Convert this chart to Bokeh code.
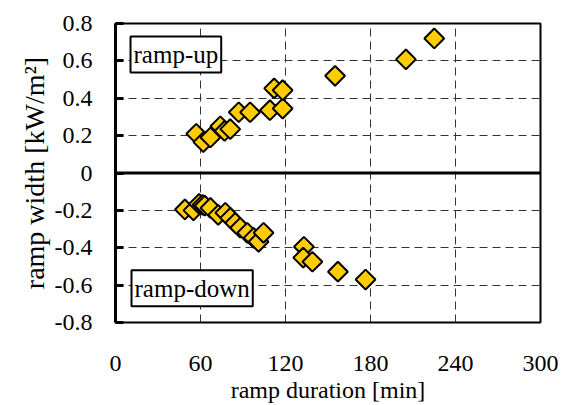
import math
from bokeh.plotting import figure
from bokeh.models import Range1d, FixedTicker, Span, Label, ColumnDataSource
from bokeh.embed import file_html
from bokeh.resources import INLINE

# ramp-up events
up_duration = [57, 62, 67, 74, 77, 81, 87, 95, 109, 118, 112, 118, 155, 205, 225]
up_width = [0.21, 0.165, 0.19, 0.25, 0.225, 0.235, 0.325, 0.325, 0.336, 0.345, 0.453, 0.443, 0.52, 0.608, 0.72]

# ramp-down events
down_duration = [49, 55, 59, 61.5, 63, 67, 72.5, 77.5, 81, 84.5, 88, 93, 97.5, 101, 104.5, 133, 132.5, 139, 157, 176.5]
down_width = [-0.195, -0.20, -0.165, -0.17, -0.175, -0.187, -0.224, -0.213, -0.24, -0.267, -0.293, -0.32, -0.347, -0.368, -0.32, -0.395, -0.453, -0.475, -0.528, -0.57]

x_ticks = [0, 60, 120, 180, 240, 300]
y_ticks = [0.8, 0.6, 0.4, 0.2, 0, -0.2, -0.4, -0.6, -0.8]
y_tick_labels = ["0.8", "0.6", "0.4", "0.2", "0", "-0.2", "-0.4", "-0.6", "-0.8"]

FONT = "Liberation Serif"

p = figure(width=569, height=405, output_backend="svg", toolbar_location=None,
           x_range=Range1d(0, 300), y_range=Range1d(-0.8, 0.8),
           min_border_left=115, min_border_right=29, min_border_top=23, min_border_bottom=82)
p.background_fill_color = "white"
p.border_fill_color = "white"
p.outline_line_color = "black"
p.outline_line_width = 2

p.xaxis.ticker = FixedTicker(ticks=x_ticks)
p.yaxis.ticker = FixedTicker(ticks=y_ticks)
p.yaxis.major_label_overrides = {v: s for v, s in zip(y_ticks, y_tick_labels)}

for g in (p.xgrid, p.ygrid):
    g.grid_line_color = "#333333"
    g.grid_line_dash = "8 5"
    g.grid_line_width = 1

ax = p.xaxis[0]
ax.axis_line_color = None
ax.major_tick_line_color = None
ax.minor_tick_line_color = None
ax.major_label_standoff = 27
ax.major_label_text_font = FONT
ax.major_label_text_font_size = "24px"
ax.major_label_text_color = "black"
ax.axis_label = "ramp duration [min]"
ax.axis_label_text_font = FONT
ax.axis_label_text_font_size = "24px"
ax.axis_label_text_font_style = "normal"
ax.axis_label_text_color = "black"
ax.axis_label_standoff = 3

ay = p.yaxis[0]
ay.axis_line_width = 3
ay.axis_line_color = "black"
ay.major_tick_in = 8
ay.major_tick_out = 0
ay.major_tick_line_width = 3
ay.major_tick_line_color = "black"
ay.minor_tick_line_color = None
ay.major_label_standoff = 23
ay.major_label_text_font = FONT
ay.major_label_text_font_size = "24px"
ay.major_label_text_color = "black"
ay.axis_label = "ramp width [kW/m²]"
ay.axis_label_text_font = FONT
ay.axis_label_text_font_size = "28px"
ay.axis_label_text_font_style = "normal"
ay.axis_label_text_color = "black"
ay.axis_label_standoff = 2

p.add_layout(Span(location=0, dimension="width", line_color="black", line_width=3))

up_src = ColumnDataSource(dict(x=up_duration, y=up_width))
down_src = ColumnDataSource(dict(x=down_duration, y=down_width))
for src in (down_src, up_src):
    p.scatter("x", "y", source=src, marker="square", size=14, angle=math.pi / 4,
              fill_color="#FFCC00", line_color="black", line_width=2)

for txt, xx, yy in (("ramp-up", 10.6, 0.731), ("ramp-down", 11.3, -0.52)):
    p.add_layout(Label(x=xx, y=yy, text=txt, text_font=FONT, text_font_size="25px",
                       text_color="black", text_align="left", text_baseline="top",
                       background_fill_color="white", border_line_color="black",
                       border_line_width=2,
                       padding=dict(left=3, right=3, top=5, bottom=4)))

open("out.html", "w").write(file_html(p, INLINE))
